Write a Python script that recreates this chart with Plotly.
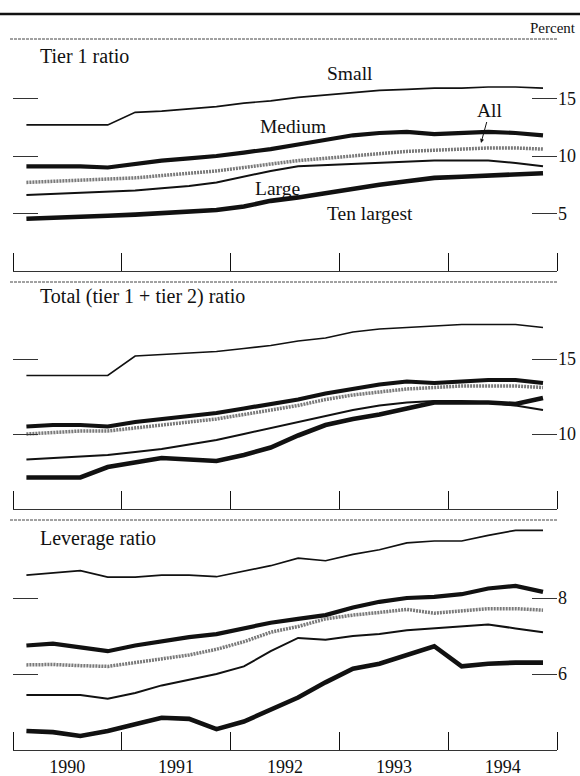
import plotly.graph_objects as go

# quarterly observations, plotted at mid-quarter
quarters = [
    "1990-02-15", "1990-05-15", "1990-08-15", "1990-11-15",
    "1991-02-15", "1991-05-15", "1991-08-15", "1991-11-15",
    "1992-02-15", "1992-05-15", "1992-08-15", "1992-11-15",
    "1993-02-15", "1993-05-15", "1993-08-15", "1993-11-15",
    "1994-02-15", "1994-05-15", "1994-08-15", "1994-11-15",
]
groups = ["Small", "Medium", "All", "Large", "Ten largest"]

# Tier 1 ratio (percent)
tier1_small = [12.7, 12.7, 12.7, 12.7, 13.8, 13.9, 14.1, 14.3, 14.6, 14.8,
               15.1, 15.3, 15.5, 15.7, 15.8, 15.9, 15.9, 16.0, 16.0, 15.9]
tier1_medium = [9.1, 9.1, 9.1, 9.0, 9.3, 9.6, 9.8, 10.0, 10.3, 10.6,
                11.0, 11.4, 11.8, 12.0, 12.1, 11.9, 12.0, 12.1, 12.0, 11.8]
tier1_all = [7.7, 7.8, 7.9, 8.0, 8.1, 8.3, 8.5, 8.7, 9.0, 9.3,
             9.6, 9.8, 10.0, 10.2, 10.4, 10.5, 10.6, 10.7, 10.7, 10.6]
tier1_large = [6.6, 6.7, 6.8, 6.9, 7.0, 7.2, 7.4, 7.7, 8.2, 8.7,
               9.1, 9.2, 9.3, 9.4, 9.5, 9.6, 9.6, 9.6, 9.4, 9.1]
tier1_ten = [4.55, 4.6, 4.7, 4.8, 4.9, 5.0, 5.1, 5.3, 5.6, 6.1,
             6.4, 6.8, 7.2, 7.5, 7.8, 8.1, 8.2, 8.3, 8.4, 8.5]

# Total (tier 1 + tier 2) ratio (percent)
total_small = [13.9, 13.9, 13.9, 13.9, 15.2, 15.3, 15.4, 15.5, 15.7, 15.9,
               16.2, 16.4, 16.8, 17.0, 17.1, 17.2, 17.3, 17.3, 17.3, 17.1]
total_medium = [10.5, 10.6, 10.6, 10.5, 10.8, 11.0, 11.2, 11.4, 11.7, 12.0,
                12.3, 12.7, 13.0, 13.3, 13.5, 13.4, 13.5, 13.6, 13.6, 13.4]
total_all = [10.0, 10.1, 10.2, 10.2, 10.4, 10.6, 10.8, 11.0, 11.3, 11.6,
             11.9, 12.3, 12.6, 12.8, 13.0, 13.1, 13.2, 13.2, 13.2, 13.1]
total_large = [8.3, 8.4, 8.5, 8.6, 8.8, 9.0, 9.3, 9.6, 10.0, 10.4,
               10.8, 11.2, 11.6, 11.9, 12.1, 12.2, 12.2, 12.1, 11.9, 11.6]
total_ten = [7.1, 7.1, 7.1, 7.8, 8.1, 8.4, 8.3, 8.2, 8.6, 9.1,
             9.9, 10.6, 11.0, 11.3, 11.7, 12.1, 12.1, 12.1, 12.0, 12.4]

# Leverage ratio (percent)
lev_small = [8.6, 8.65, 8.72, 8.55, 8.55, 8.6, 8.6, 8.56, 8.7, 8.85,
             9.05, 8.98, 9.15, 9.27, 9.45, 9.5, 9.5, 9.65, 9.78, 9.78]
lev_medium = [6.75, 6.8, 6.7, 6.6, 6.75, 6.87, 6.97, 7.05, 7.2, 7.35,
              7.45, 7.55, 7.75, 7.9, 8.0, 8.03, 8.1, 8.25, 8.32, 8.16]
lev_all = [6.24, 6.25, 6.22, 6.2, 6.3, 6.4, 6.5, 6.65, 6.85, 7.1,
           7.25, 7.45, 7.55, 7.62, 7.7, 7.6, 7.65, 7.72, 7.72, 7.68]
lev_large = [5.45, 5.45, 5.45, 5.35, 5.5, 5.7, 5.85, 6.0, 6.2, 6.6,
             6.95, 6.9, 7.0, 7.05, 7.15, 7.2, 7.25, 7.3, 7.2, 7.1]
lev_ten = [4.5, 4.47, 4.37, 4.5, 4.68, 4.85, 4.82, 4.55, 4.75, 5.05,
           5.38, 5.78, 6.14, 6.27, 6.5, 6.73, 6.2, 6.27, 6.3, 6.3]

W, H = 580, 776
FONT = "Liberation Serif, Times New Roman, serif"
INK = "#111111"


def px(x):
    # window pixel column -> paper fraction
    return x / W


def py(y):
    # window pixel row -> paper fraction
    return 1 - y / H


STYLE = {
    "Small": {"color": INK, "width": 1.7},
    "Medium": {"color": INK, "width": 4.2},
    "All": {"color": "#7a7a7a", "width": 3.5, "dash": "2px,1px"},
    "Large": {"color": INK, "width": 2},
    "Ten largest": {"color": INK, "width": 4.6},
}

# title, series, y range, tick values, top / bottom pixel rows, title row
panels = [
    ("Tier 1 ratio", [tier1_small, tier1_medium, tier1_all, tier1_large, tier1_ten],
     [0, 20], [5, 10, 15], 41, 271, 56),
    ("Total (tier 1 + tier 2) ratio", [total_small, total_medium, total_all, total_large, total_ten],
     [5, 20], [10, 15], 284, 509, 296),
    ("Leverage ratio", [lev_small, lev_medium, lev_all, lev_large, lev_ten],
     [4, 10], [6, 8], 522, 750, 538),
]

fig = go.Figure()
layout = {}
shapes = [
    {"type": "line", "xref": "paper", "yref": "paper", "x0": 0, "x1": 1,
     "y0": py(14), "y1": py(14), "line": {"color": INK, "width": 2.5}},
]
annotations = [
    {"text": "Percent", "x": px(578), "y": py(28), "xref": "paper", "yref": "paper",
     "xanchor": "right", "yanchor": "middle", "showarrow": False,
     "font": {"size": 15, "family": FONT, "color": INK}},
]

for i, (title, series, rng, tickvals, top, bottom, title_y) in enumerate(panels, start=1):
    sfx = "" if i == 1 else str(i)
    for name, vals in zip(groups, series):
        fig.add_trace(go.Scatter(
            x=quarters, y=vals, mode="lines", name=name,
            line=STYLE[name], xaxis=f"x{sfx}", yaxis=f"y{sfx}",
            showlegend=False, hoverinfo="skip",
        ))

    layout[f"xaxis{sfx}"] = dict(
        domain=[px(13), px(557)], anchor=f"y{sfx}", type="date",
        range=["1990-01-01", "1995-01-01"], tick0="1990-01-01", dtick="M12",
        tickformat="%Y", ticklabelmode="period",
        ticks="inside", ticklen=18, tickwidth=1, tickcolor=INK,
        showline=True, linecolor="#333333", linewidth=1,
        showgrid=False, zeroline=False, showticklabels=(i == 3),
        tickfont={"size": 18, "family": FONT, "color": INK},
    )
    layout[f"yaxis{sfx}"] = dict(
        domain=[py(bottom), py(top)], anchor=f"x{sfx}", range=rng,
        tickvals=tickvals, side="right", ticks="inside", ticklen=25,
        tickwidth=1, tickcolor="#333333", mirror="ticks",
        showline=False, showgrid=False, zeroline=False,
        tickfont={"size": 18, "family": FONT, "color": INK},
    )
    # thin separator along the top of each panel
    shapes.append({"type": "line", "xref": "paper", "yref": "paper",
                   "x0": px(10), "x1": px(557), "y0": py(top - 2), "y1": py(top - 2),
                   "line": {"color": "#444444", "width": 1, "dash": "3px,1px"}})
    annotations.append({"text": title, "x": px(38), "y": py(title_y),
                        "xref": "paper", "yref": "paper", "xanchor": "left",
                        "yanchor": "middle", "showarrow": False,
                        "font": {"size": 20, "family": FONT, "color": INK}})

# curve labels in the tier 1 panel
for text, (lx, ly) in [("Small", (350, 73)), ("Medium", (293, 127)),
                       ("Large", (277, 188)), ("Ten largest", (370, 213))]:
    annotations.append({"text": text, "x": px(lx), "y": py(ly), "xref": "paper",
                        "yref": "paper", "xanchor": "center", "yanchor": "middle",
                        "showarrow": False,
                        "font": {"size": 19.5, "family": FONT, "color": INK}})
annotations.append({"text": "All", "x": px(481), "y": py(143), "xref": "paper",
                    "yref": "paper", "ax": 9, "ay": -33, "showarrow": True,
                    "arrowhead": 2, "arrowsize": 0.8, "arrowwidth": 1, "arrowcolor": INK,
                    "font": {"size": 19.5, "family": FONT, "color": INK}})

fig.update_layout(
    width=W, height=H,
    margin={"l": 0, "r": 0, "t": 0, "b": 0},
    paper_bgcolor="white", plot_bgcolor="white",
    font={"family": FONT, "color": INK},
    shapes=shapes, annotations=annotations,
    **layout,
)

# drop the browser's default body margin so the figure fills the window exactly
fig.write_html(
    "out.html",
    config={"displayModeBar": False},
    post_script="document.body.style.margin='0';document.body.style.overflow='hidden';",
)
